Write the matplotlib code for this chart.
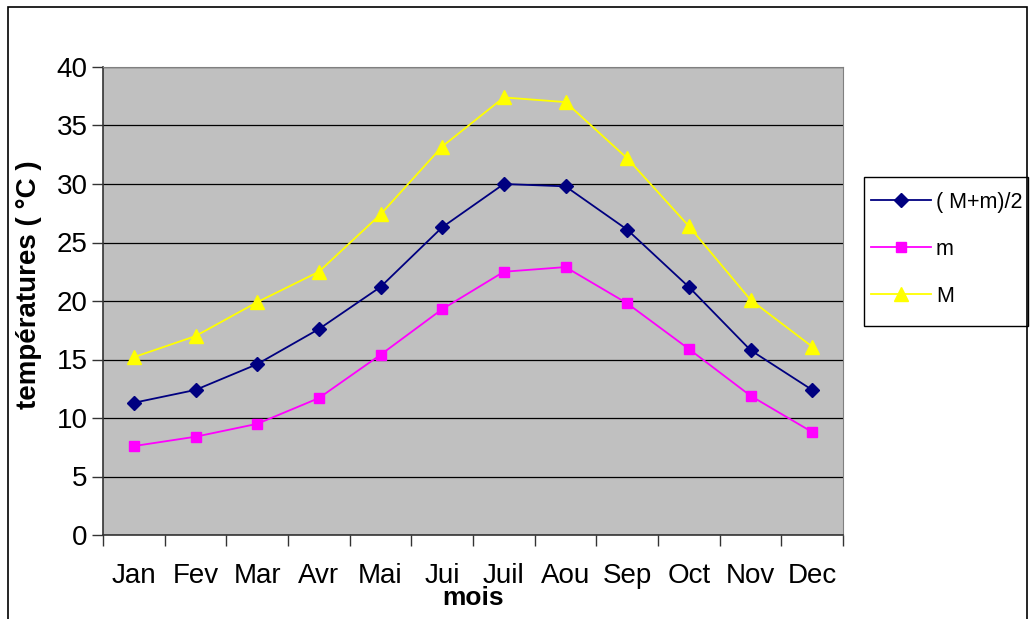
import matplotlib.pyplot as plt
from matplotlib.patches import Rectangle
from matplotlib.lines import Line2D

plt.rcParams['font.family'] = ['Liberation Sans', 'DejaVu Sans']

mois = ['Jan', 'Fev', 'Mar', 'Avr', 'Mai', 'Jui', 'Juil', 'Aou', 'Sep', 'Oct', 'Nov', 'Dec']
moyenne = [11.3, 12.4, 14.6, 17.6, 21.2, 26.3, 30.0, 29.8, 26.1, 21.2, 15.8, 12.4]
tmin = [7.6, 8.4, 9.5, 11.7, 15.4, 19.3, 22.5, 22.9, 19.8, 15.9, 11.9, 8.8]
tmax = [15.2, 17.0, 19.9, 22.5, 27.4, 33.2, 37.4, 37.0, 32.2, 26.4, 20.1, 16.1]

W, H = 1034, 619
fig = plt.figure(figsize=(W / 100, H / 100), dpi=100)
ax = fig.add_axes([103 / W, 1 - 535 / H, (843 - 103) / W, (535 - 67) / H])

# cadre extérieur
fig.patches.append(Rectangle((8 / W, -0.05), (1027 - 8) / W, 1 - 7 / H + 0.05,
                             transform=fig.transFigure, fill=False,
                             edgecolor='black', lw=1.2))

x = list(range(len(mois)))
ax.set_facecolor('#c0c0c0')
ax.plot(x, moyenne, color='#000080', marker='D', ms=7, lw=1.3, label='( M+m)/2', clip_on=False)
ax.plot(x, tmin, color='#ff00ff', marker='s', ms=7.5, lw=1.3, label='m', clip_on=False)
ax.plot(x, tmax, color='#ffff00', marker='^', ms=10, lw=1.3, label='M', clip_on=False)

ax.set_xlim(-0.5, len(mois) - 0.5)
ax.set_ylim(0, 40)
ax.set_yticks(range(0, 41, 5))
ax.set_xticks(x)
ax.set_xticklabels(mois)
ax.set_xticks([i - 0.5 for i in range(len(mois) + 1)], minor=True)
ax.tick_params(axis='x', which='major', length=0, pad=20, labelsize=20)
ax.tick_params(axis='x', which='minor', length=8, width=1, color='#333333', direction='out')
ax.tick_params(axis='y', length=8, width=1, color='#333333', labelsize=20, pad=3)
ax.yaxis.grid(True, color='black', lw=0.9)
ax.set_axisbelow(True)
for side in ['top', 'right']:
    ax.spines[side].set_color('#808080')
for side in ['left', 'bottom']:
    ax.spines[side].set_color('#333333')
    ax.spines[side].set_linewidth(1.2)

ax.set_ylabel('températures ( °C )', fontsize=20, fontweight='bold')
ax.yaxis.set_label_coords(-0.082, 0.534)
ax.set_xlabel('mois', fontsize=19, fontweight='bold', labelpad=-2)

# légende : cadre dessiné à part
fig.patches.append(Rectangle((864 / W, 1 - 326 / H), (1028 - 864) / W, (326 - 177) / H,
                             transform=fig.transFigure, fill=False,
                             edgecolor='black', lw=1.0))
handles = [Line2D([], [], color='#000080', marker='D', ms=7, lw=1.3),
           Line2D([], [], color='#ff00ff', marker='s', ms=7.5, lw=1.3),
           Line2D([], [], color='#ffff00', marker='^', ms=10, lw=1.3)]
leg = fig.legend(handles, ['( M+m)/2', 'm', 'M'], loc='upper left',
                 bbox_to_anchor=(871 / W, 1 - 192 / H), fontsize=15.5,
                 frameon=False, handlelength=2.8, labelspacing=1.2,
                 borderpad=0, handletextpad=0.22, borderaxespad=0)

fig.savefig('out.png', dpi=100)
